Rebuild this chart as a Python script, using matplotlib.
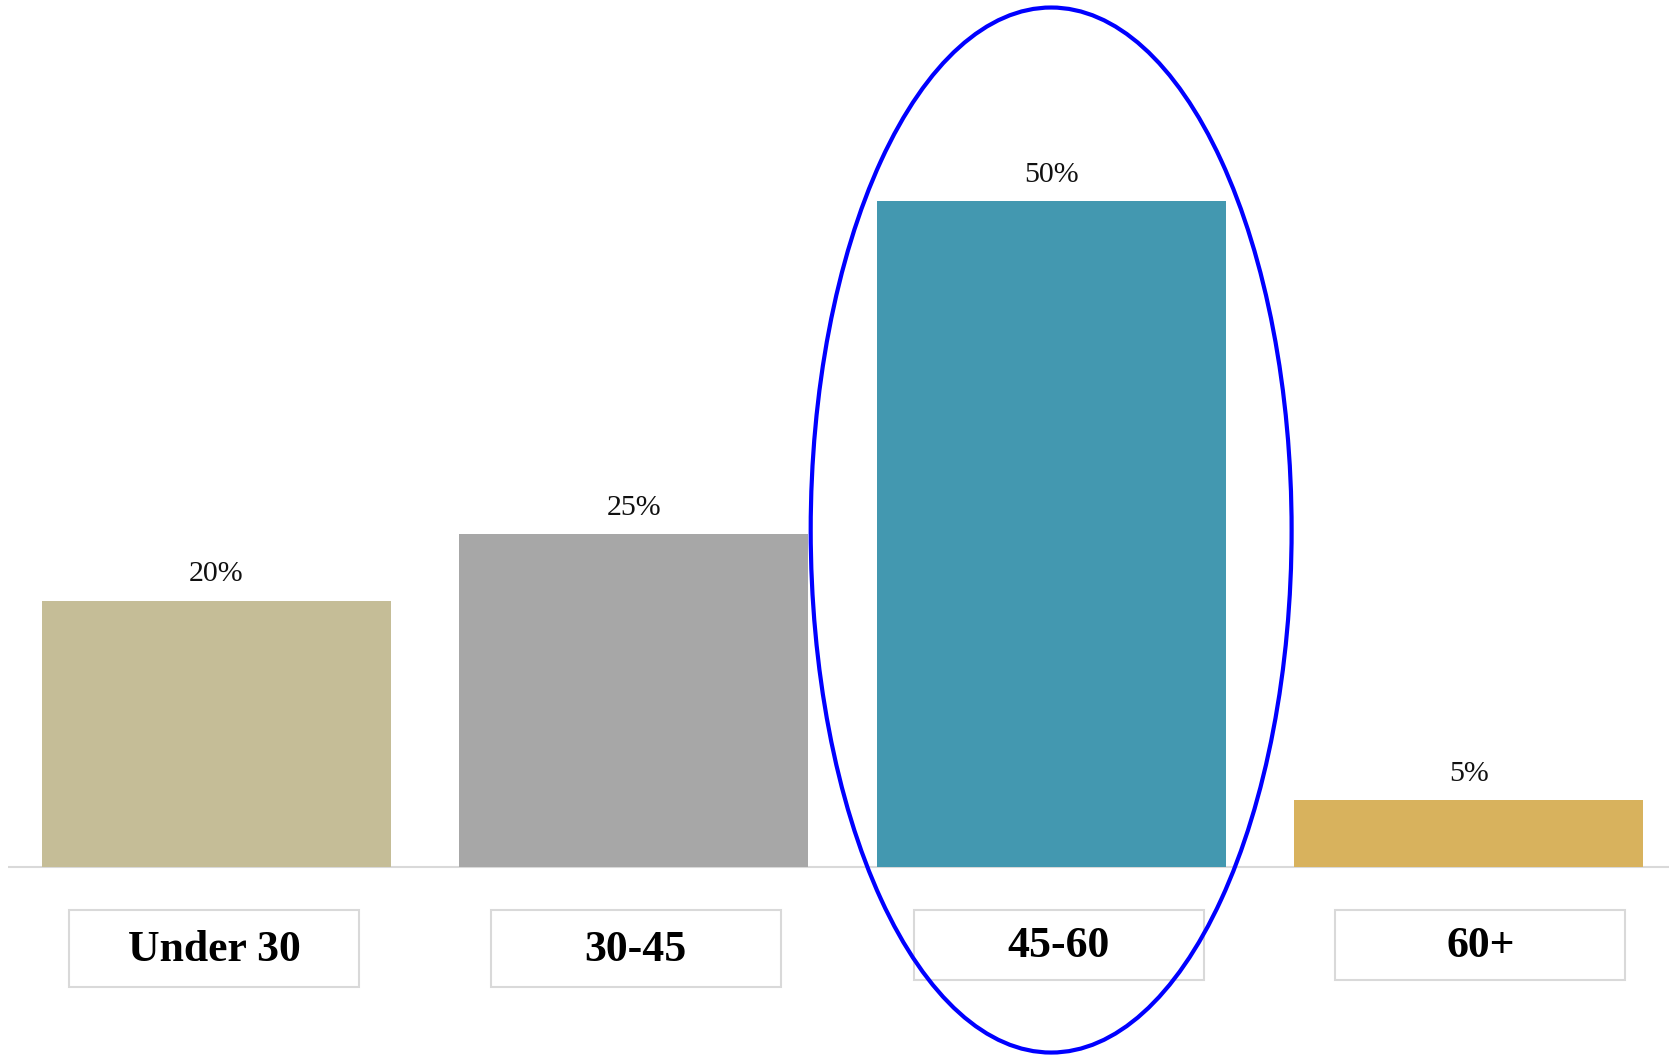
import matplotlib
matplotlib.use("Agg")
import matplotlib.pyplot as plt
from matplotlib.patches import Ellipse, Rectangle

categories = ["Under 30", "30-45", "45-60", "60+"]
values = [20, 25, 50, 5]
value_labels = ["20%", "25%", "50%", "5%"]
colors = ["#C5BD97", "#A7A7A7", "#4398B0", "#D8B25D"]
highlight_index = 2

plt.rcParams['font.family'] = ['Liberation Serif', 'DejaVu Serif']

fig = plt.figure(figsize=(16.69, 10.55), dpi=100)
ax = fig.add_axes([7.5 / 1669, 0, 1 - 7.5 / 1669, 1])
ax.set_xlim(-0.5, 3.48)
ax.set_ylim(-14.11, 65.09)
ax.axis("off")

x = list(range(len(categories)))
bars = ax.bar(x, values, width=0.836, color=colors, zorder=2)

# baseline
ax.axhline(0, color="#D9D9D9", linewidth=1.5, zorder=1)

# value labels
for xi, v, lab in zip(x, values, value_labels):
    ax.annotate(lab, (xi, v), xytext=(0, 13.9), textcoords="offset points",
                ha="center", va="baseline", fontsize=21.5, color="#111111")

# category label boxes
box_bottoms = [-9.0, -9.0, -8.48, -8.48]
box_offsets = [-0.005, 0.005, 0.018, 0.028]
for xi, cat, bb, off in zip(x, categories, box_bottoms, box_offsets):
    top = -3.19
    rect = Rectangle((xi + off - 0.3475, bb), 0.695, top - bb, facecolor="white",
                     edgecolor="#D9D9D9", linewidth=1.5, clip_on=False, zorder=3)
    ax.add_patch(rect)
    ax.text(xi + off, (top + bb) / 2 - 0.1, cat, ha="center", va="center",
            fontsize=31.5, fontweight="bold", color="black", zorder=4)

# highlight ellipse
ell = Ellipse((highlight_index, 25.3), width=1.152, height=78.45, facecolor="none",
              edgecolor="#0000FF", linewidth=3.0, clip_on=False, zorder=5)
ax.add_patch(ell)

fig.savefig("out.png", dpi=100)
